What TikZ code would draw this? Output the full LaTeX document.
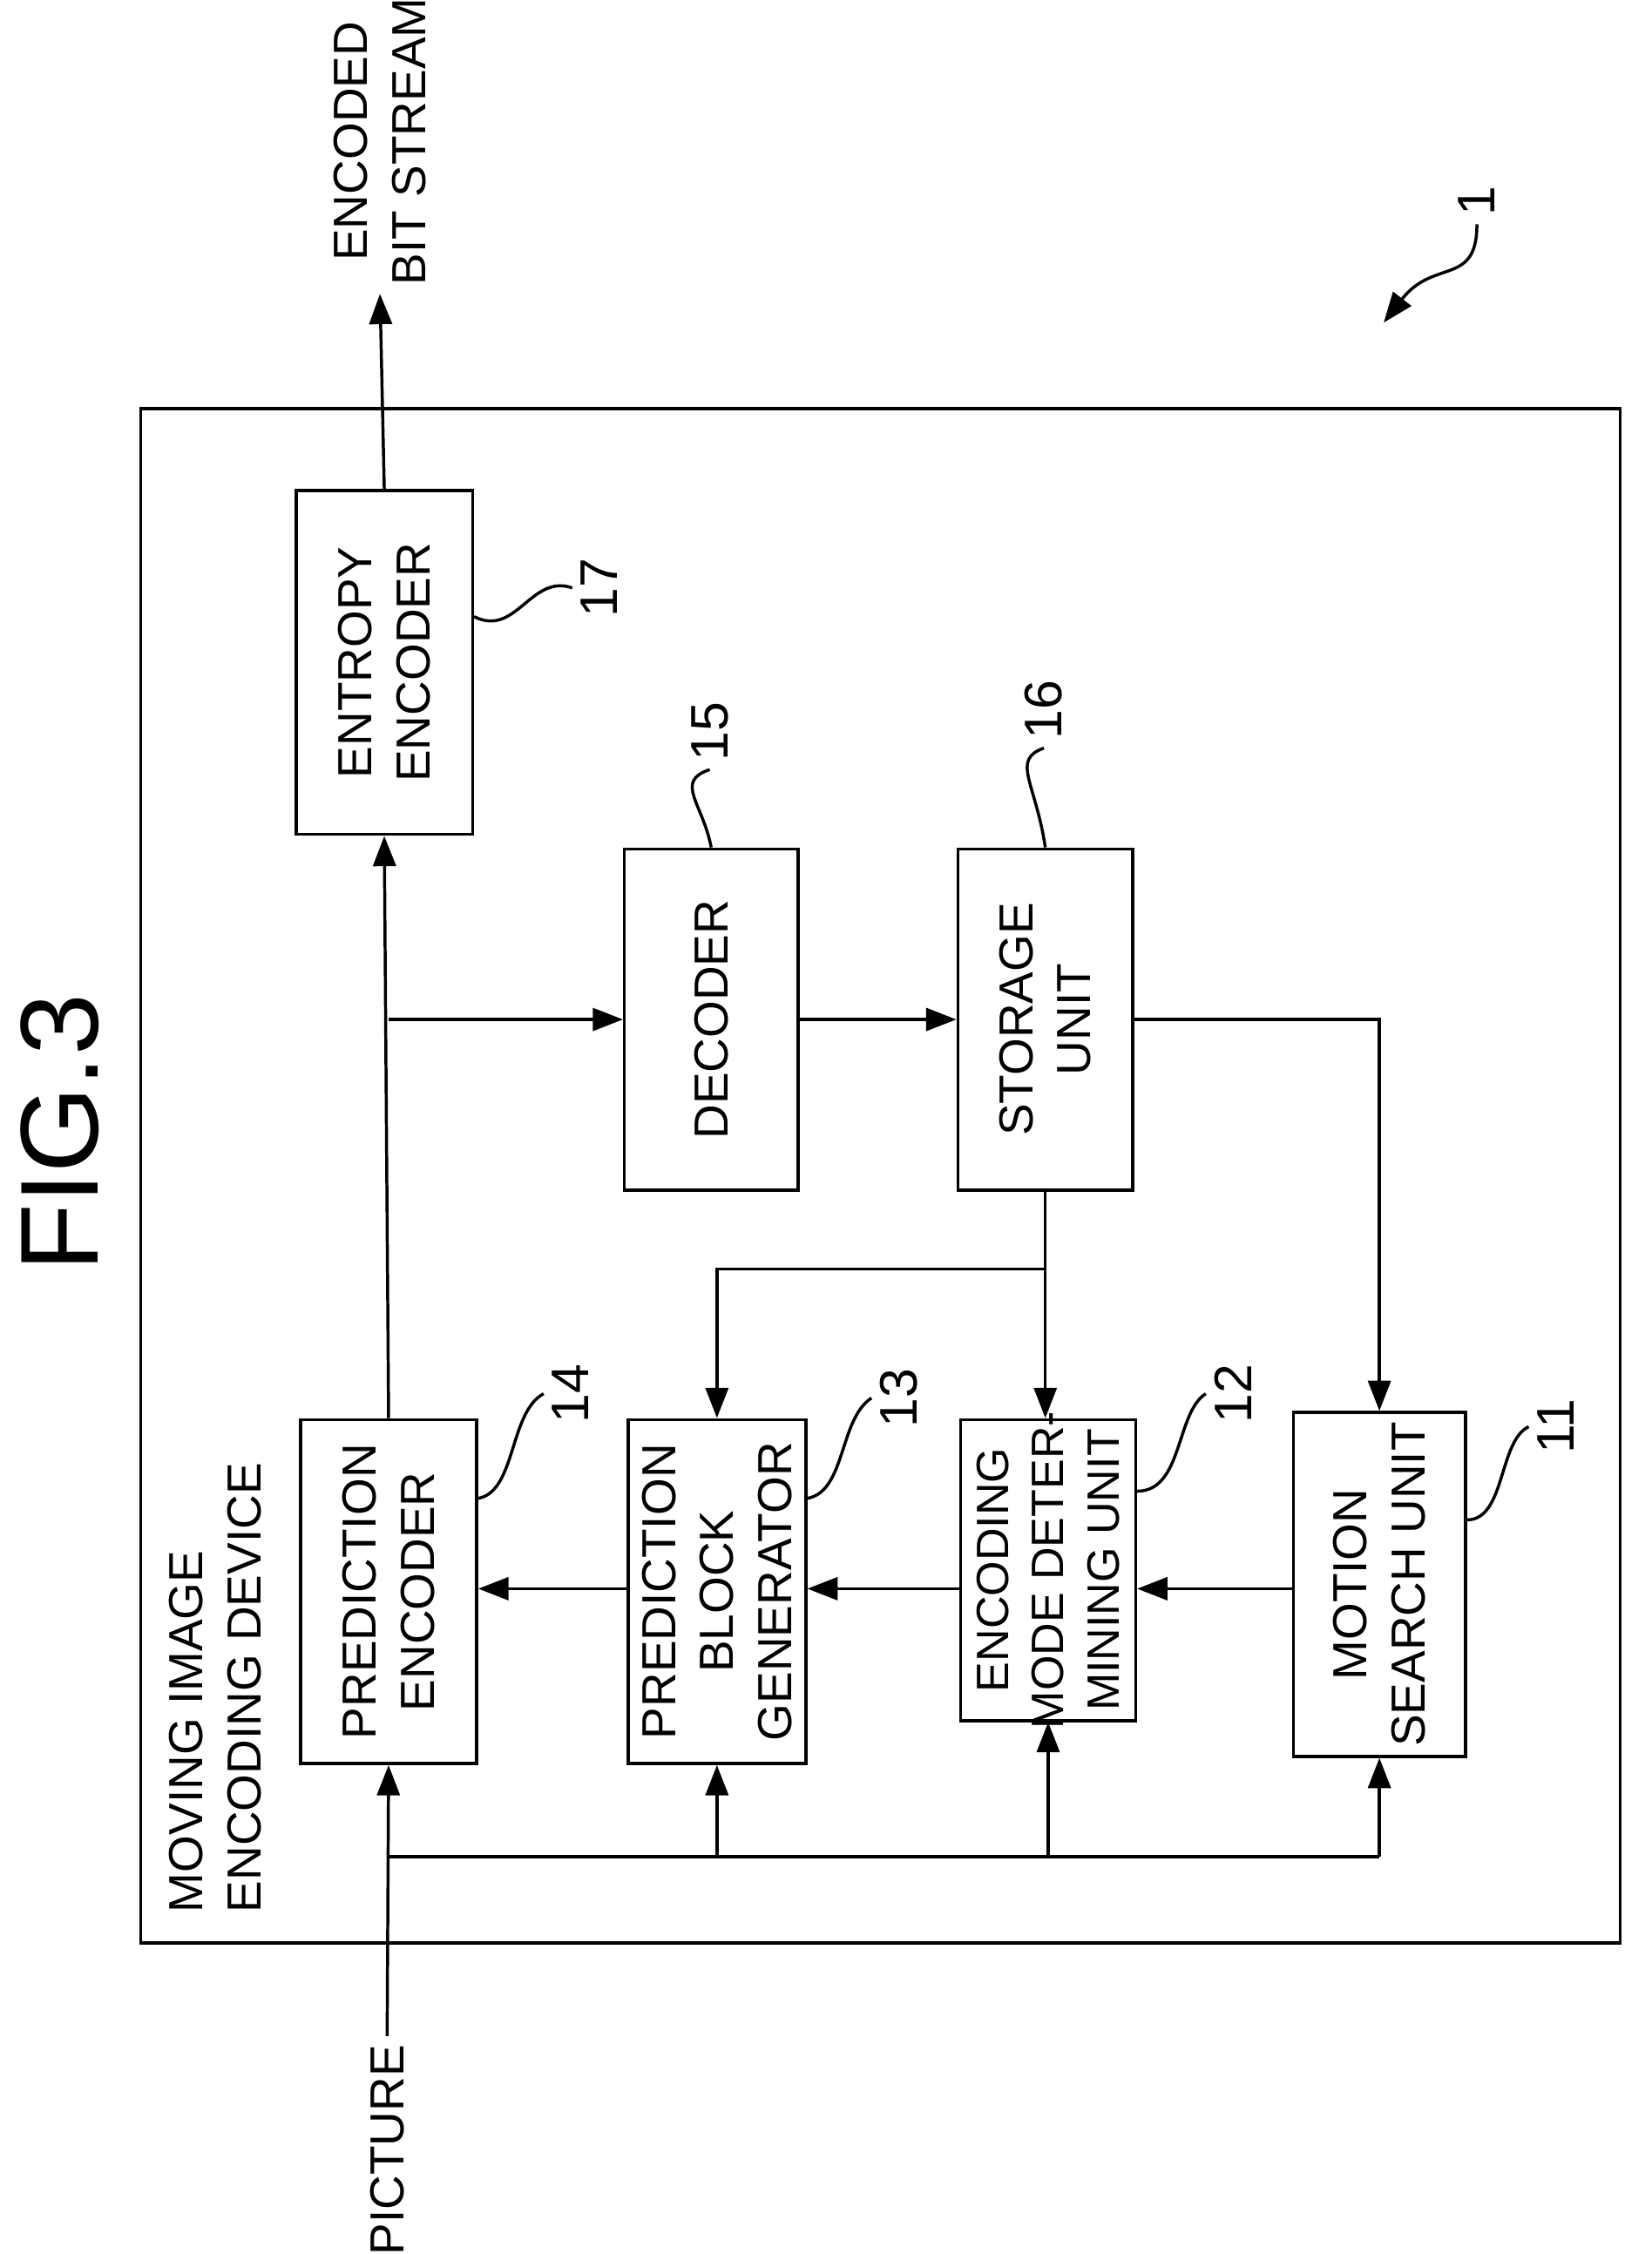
\documentclass[tikz,border=0pt]{standalone}
\usepackage{fontspec}
\setmainfont{Liberation Sans}
\usetikzlibrary{arrows.meta}
\tikzset{
  blk/.style={draw, line width=1.2pt, inner sep=0pt},
  txt/.style={rotate=90, align=center, font=\fontsize{19}{23}\selectfont},
  num/.style={rotate=90, font=\fontsize{21}{25}\selectfont},
  arr/.style={line width=1.2pt, -{Triangle[length=12pt, width=9pt]}},
  ln/.style={line width=1.2pt},
}
\begin{document}
\begin{tikzpicture}[x=0.02cm, y=-0.02cm]
            \useasboundingbox (0,0) rectangle (1152,1572);
            \node[num, font=\fontsize{44}{50}\selectfont] (fig) at (42,790) {FIG.3};
            % outer frame
            \draw[ln] (98,285) rectangle (1130,1355);
            \node[txt, align=left, anchor=north west] (dev) at (112,1340) {MOVING IMAGE\\ENCODING DEVICE};
            % blocks
            \node[blk, minimum width=2.46cm, minimum height=4.8cm] (ent) at (268,462) {};
            \node[txt] at (ent) {ENTROPY\\ENCODER};
            \node[blk, minimum width=2.42cm, minimum height=4.76cm] (dec) at (496,711) {};
            \node[txt] at (dec) {DECODER};
            \node[blk, minimum width=2.44cm, minimum height=4.76cm] (sto) at (729,711) {};
            \node[txt] at (sto) {STORAGE\\UNIT};
            \node[blk, minimum width=2.46cm, minimum height=4.8cm] (pen) at (271,1110) {};
            \node[txt] at (pen) {PREDICTION\\ENCODER};
            \node[blk, minimum width=2.48cm, minimum height=4.8cm] (pbg) at (500,1110) {};
            \node[txt] at (pbg) {PREDICTION\\BLOCK\\GENERATOR};
            \node[blk, minimum width=2.44cm, minimum height=4.2cm] (emd) at (731,1095) {};
            \node[txt, font=\fontsize{18}{22}\selectfont] at (emd) {ENCODING\\MODE DETER-\\MINING UNIT};
            \node[blk, minimum width=2.4cm, minimum height=4.8cm] (mse) at (962,1105) {};
            \node[txt] at (mse) {MOTION\\SEARCH UNIT};
            % reference numbers
            \node[num] (n17) at (418,410) {17};
            \draw[ln] (ent.east |- 0,430) .. controls (360,445) and (370,400) .. (n17.north);
            \node[num] (n15) at (495,510) {15};
            \draw[ln] (dec.north) .. controls (490,560) and (470,545) .. (n15.west);
            \node[num] (n16) at (728,495) {16};
            \draw[ln] (sto.north) .. controls (722,545) and (705,530) .. (n16.west);
            \node[num] (n14) at (398,972) {14};
            \draw[ln] (pen.east |- 0,1045) .. controls (360,1040) and (355,985) .. (n14.north);
            \node[num] (n13) at (627,975) {13};
            \draw[ln] (pbg.east |- 0,1045) .. controls (590,1040) and (585,990) .. (n13.north);
            \node[num] (n12) at (860,972) {12};
            \draw[ln] (emd.east |- 0,1040) .. controls (825,1040) and (820,985) .. (n12.north);
            \node[num] (n11) at (1085,995) {11};
            \draw[ln] (mse.east |- 0,1060) .. controls (1050,1060) and (1045,1005) .. (n11.north);
            \node[num] (n1) at (1030,140) {1};
            \draw[arr] (n1.west) .. controls (1030,200) and (1000,180) .. (965,225);
            % output
            \node[txt, anchor=west] (bits) at (265,205) {ENCODED\\BIT STREAM};
            \draw[arr] (ent.north) -- (bits.west);
            % data paths
            \coordinate (j1) at (pen.north |- dec.west);
            \draw[arr] (pen.north) -- (ent.south);
            \draw[arr] (j1) -- (dec.west);
            \draw[arr] (dec.east) -- (sto.west);
            \draw[arr] (sto.east) -| (mse.north);
            \coordinate (j2) at (sto.south |- 0,885);
            \draw[arr] (sto.south) -- (sto.south |- emd.north);
            \draw[arr] (j2) -| (pbg.north);
            \draw[arr] (mse.west |- 0,1108) -- (emd.east |- 0,1108);
            \draw[arr] (emd.west |- 0,1108) -- (pbg.east |- 0,1108);
            \draw[arr] (pbg.west |- 0,1108) -- (pen.east |- 0,1108);
            % input
            \node[txt, anchor=east] (pic) at (270,1420) {PICTURE};
            \coordinate (bus) at (pen.south |- 0,1295);
            \draw[arr] (pic.east) -- (pen.south);
            \draw[ln] (bus) -- (mse.south |- bus);
            \draw[arr] (pbg.south |- bus) -- (pbg.south);
            \draw[arr] (emd.south |- bus) -- (emd.south);
            \draw[arr] (mse.south |- bus) -- (mse.south);
            \end{tikzpicture}
\end{document}
